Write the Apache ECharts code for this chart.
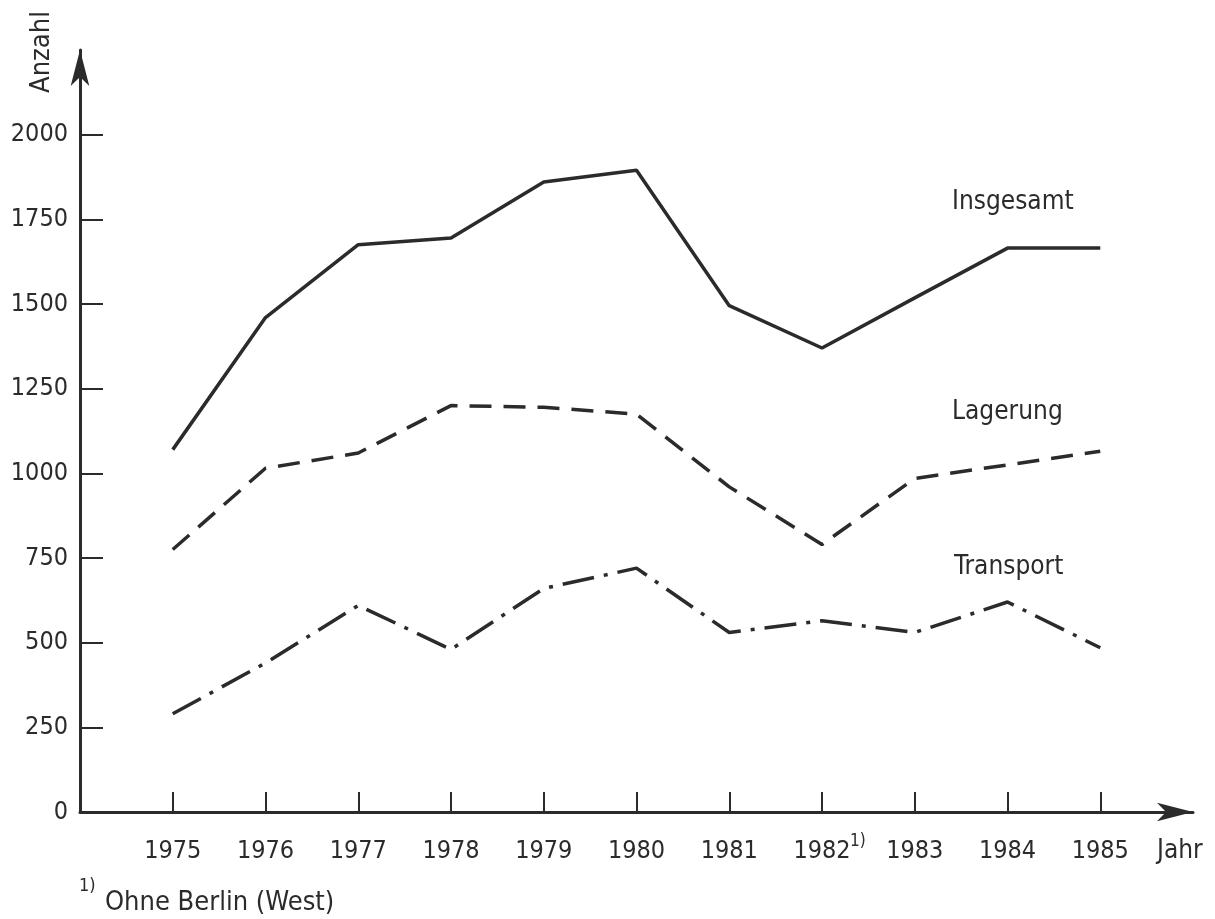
<!DOCTYPE html>
<html lang="de">
<head>
	<meta charset="UTF-8">
	<title>Anzahl 1975-1985</title>
	<style>
		html, body { margin: 0; padding: 0; background: #fff; }
		#chart { width: 1215px; height: 919px; }
	</style>
</head>
<body>
	<div id="chart"></div>
<script src="https://cdn.jsdelivr.net/npm/echarts@6/dist/echarts.min.js"></script>
<script>
    // Daten
    var years = [1975, 1976, 1977, 1978, 1979, 1980, 1981, 1982, 1983, 1984, 1985];
    var insgesamt = [1070, 1460, 1675, 1695, 1860, 1895, 1495, 1370, 1518, 1665, 1665];
    var lagerung = [775, 1015, 1060, 1200, 1195, 1175, 960, 790, 985, 1025, 1065];
    var transport = [290, 440, 610, 480, 660, 720, 530, 565, 530, 620, 485];
    var yTicks = [0, 250, 500, 750, 1000, 1250, 1500, 1750, 2000];
    var seriesNames = ['Insgesamt', 'Lagerung', 'Transport'];

    var ink = '#2b2b2b';
    var fam = '"DejaVu Sans Condensed", "Liberation Sans Narrow", "DejaVu Sans", sans-serif';

    function pairs(vals) {
        return years.map(function (y, i) { return [y, vals[i]]; });
    }

    // Text-Hilfsfunktion fuer freie Beschriftungen
    function txt(s, x, y, size, align, rot) {
        return {
            type: 'text', x: x, y: y, rotation: rot || 0,
            style: {
                text: s, fill: ink, font: size + 'px ' + fam,
                align: align || 'left', verticalAlign: 'middle',
                textAlign: align || 'left', textVerticalAlign: 'middle'
            }
        };
    }

    var myChart = echarts.init(document.getElementById('chart'));

    var option = {
        animation: false,
        backgroundColor: '#fff',
        grid: { left: 80, right: 22, top: 50, bottom: 107 },
        xAxis: {
            type: 'value',
            min: 1974,
            max: 1986,
            splitLine: { show: false },
            axisLine: {
                lineStyle: { color: ink, width: 3 },
                symbol: ['none', 'arrow'],
                symbolSize: [14, 36]
            },
            axisTick: {
                inside: true, length: 20,
                customValues: years,
                lineStyle: { color: ink, width: 2 }
            },
            axisLabel: {
                customValues: years,
                margin: 27,
                color: ink,
                fontFamily: fam,
                fontSize: 25,
                formatter: function (v) { return String(v); }
            }
        },
        yAxis: {
            type: 'value',
            min: 0,
            max: 2250,
            splitLine: { show: false },
            axisLine: {
                show: true,
                lineStyle: { color: ink, width: 3 },
                symbol: ['none', 'arrow'],
                symbolSize: [14, 36]
            },
            axisTick: {
                show: true, inside: true, length: 23,
                customValues: yTicks,
                lineStyle: { color: ink, width: 2 }
            },
            axisLabel: {
                customValues: yTicks,
                margin: 12,
                color: ink,
                fontFamily: fam,
                fontSize: 25,
                formatter: function (v) { return String(v); }
            }
        },
        series: [
            {
                name: seriesNames[0], type: 'line', showSymbol: false,
                data: pairs(insgesamt),
                lineStyle: { color: ink, width: 3.5, type: 'solid' }
            },
            {
                name: seriesNames[1], type: 'line', showSymbol: false,
                data: pairs(lagerung),
                lineStyle: { color: ink, width: 3.5, type: [22, 12] }
            },
            {
                name: seriesNames[2], type: 'line', showSymbol: false,
                data: pairs(transport),
                lineStyle: { color: ink, width: 3.5, type: [32, 10, 4, 10] }
            }
        ],
        graphic: [
            txt('Anzahl', 42, 52, 27, 'center', Math.PI / 2),
            txt(seriesNames[0], 952, 202, 26),
            txt(seriesNames[1], 952, 412, 26),
            txt(seriesNames[2], 954, 567, 26),
            txt('Jahr', 1157, 851, 26),
            txt('1)', 850, 842, 17),
            txt('1)', 79, 886, 18),
            txt('Ohne Berlin (West)', 105, 903, 27)
        ]
    };

    myChart.setOption(option);
</script>
</body>
</html>
